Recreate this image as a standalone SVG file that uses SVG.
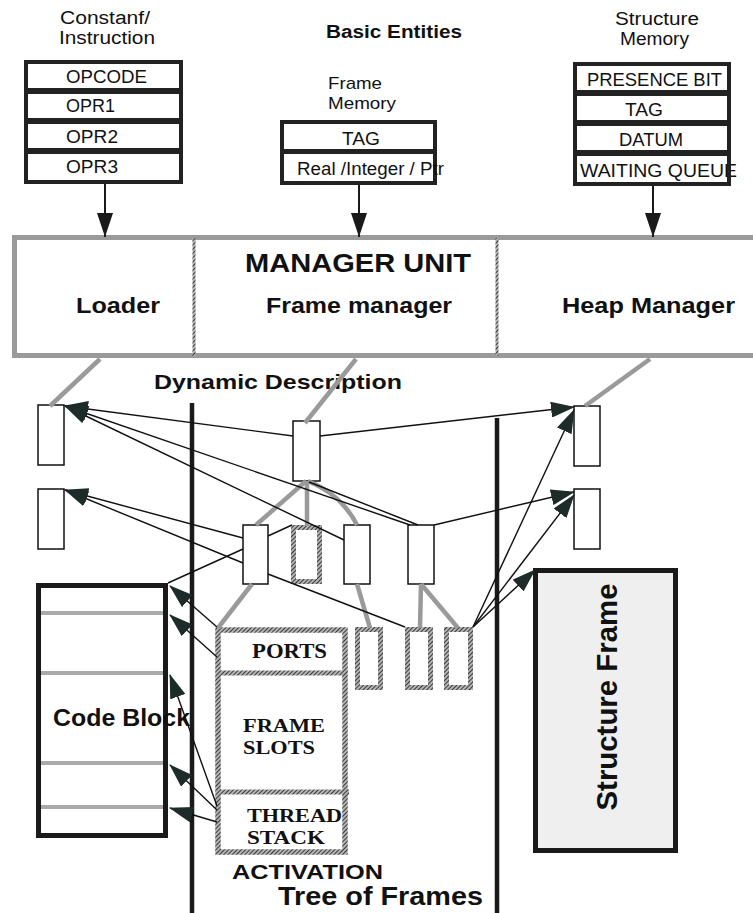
<svg xmlns="http://www.w3.org/2000/svg" width="753" height="913" viewBox="0 0 753 913">
<style>
.t{font-family:"Liberation Sans",Arial,sans-serif;fill:#111}
.b{font-family:"Liberation Sans",Arial,sans-serif;font-weight:bold;fill:#111}
.s{font-family:"Liberation Serif","Times New Roman",serif;font-weight:bold;fill:#111}
.cell{fill:#fff}
.frame{fill:#222}
.small{fill:#fff;stroke:#111;stroke-width:1.5}
.hb{fill:#fff;stroke:url(#hatch);stroke-width:5}
.ln{fill:none;stroke:#111;stroke-width:1.4}
.ar{marker-end:url(#ah)}
.gr{fill:none;stroke:#9a9a9a;stroke-width:4.5}
.vbar{stroke:#1a1a1a;stroke-width:4.5}
</style>
<defs>
<pattern id="hatch" width="3" height="3" patternUnits="userSpaceOnUse" patternTransform="rotate(45)">
<rect width="3" height="3" fill="#b4b4b4"/>
<line x1="0" y1="0" x2="0" y2="3" stroke="#1a1a1a" stroke-width="1.6"/>
</pattern>
<marker id="ah" markerUnits="userSpaceOnUse" markerWidth="24" markerHeight="16" refX="23" refY="8" orient="auto">
<path d="M0,0 L24,8 L0,16 z" fill="#1d2c28"/>
</marker>
<marker id="ahs" markerUnits="userSpaceOnUse" markerWidth="24" markerHeight="16" refX="24" refY="8" orient="auto">
<path d="M0,0 L24,8 L0,16 z" fill="#1a1a1a"/>
</marker>
</defs>

<text class="b" x="326" y="38" font-size="18" textLength="136" lengthAdjust="spacingAndGlyphs">Basic Entities</text>

<g id="constant-instruction">
<text class="t" x="60" y="24" font-size="18" textLength="90" lengthAdjust="spacingAndGlyphs">Constanf/</text>
<text class="t" x="59" y="44" font-size="18" textLength="96" lengthAdjust="spacingAndGlyphs">Instruction</text>
<rect class="frame" x="24" y="60" width="159" height="124"/>
<rect class="cell" x="28" y="64" width="151" height="24"/>
<rect class="cell" x="28" y="94" width="151" height="24"/>
<rect class="cell" x="28" y="124" width="151" height="24"/>
<rect class="cell" x="28" y="154" width="151" height="26"/>
<text class="t" x="66" y="83" font-size="17.5" textLength="81" lengthAdjust="spacingAndGlyphs">OPCODE</text>
<text class="t" x="66" y="112" font-size="17.5" textLength="49" lengthAdjust="spacingAndGlyphs">OPR1</text>
<text class="t" x="66" y="143" font-size="17.5" textLength="52" lengthAdjust="spacingAndGlyphs">OPR2</text>
<text class="t" x="66" y="173" font-size="17.5" textLength="52" lengthAdjust="spacingAndGlyphs">OPR3</text>
</g>

<g id="frame-memory">
<text class="t" x="328" y="89" font-size="17" textLength="54" lengthAdjust="spacingAndGlyphs">Frame</text>
<text class="t" x="328" y="109" font-size="17" textLength="68" lengthAdjust="spacingAndGlyphs">Memory</text>
<rect class="frame" x="280" y="120" width="157" height="65"/>
<rect class="cell" x="284" y="124" width="149" height="25"/>
<rect class="cell" x="284" y="154" width="149" height="27"/>
<text class="t" x="342" y="145" font-size="17.5" textLength="38" lengthAdjust="spacingAndGlyphs">TAG</text>
<text class="t" x="297" y="175" font-size="17.5" textLength="147" lengthAdjust="spacingAndGlyphs">Real /Integer / Ptr</text>
</g>

<g id="structure-memory">
<text class="t" x="615" y="25" font-size="18" textLength="84" lengthAdjust="spacingAndGlyphs">Structure</text>
<text class="t" x="620" y="45" font-size="18" textLength="69" lengthAdjust="spacingAndGlyphs">Memory</text>
<rect class="frame" x="573" y="62" width="158" height="124"/>
<rect class="cell" x="577" y="66" width="150" height="24"/>
<rect class="cell" x="577" y="96" width="150" height="24"/>
<rect class="cell" x="577" y="126" width="150" height="24"/>
<rect class="cell" x="577" y="156" width="150" height="26"/>
<text class="t" x="587" y="86" font-size="17.5" textLength="135" lengthAdjust="spacingAndGlyphs">PRESENCE BIT</text>
<text class="t" x="625" y="116" font-size="17.5" textLength="38" lengthAdjust="spacingAndGlyphs">TAG</text>
<text class="t" x="619" y="146" font-size="17.5" textLength="64" lengthAdjust="spacingAndGlyphs">DATUM</text>
<text class="t" x="580" y="177" font-size="17.5" textLength="157" lengthAdjust="spacingAndGlyphs">WAITING QUEUE</text>
<rect class="frame" x="727" y="156" width="4" height="28"/>
</g>

<g id="manager-unit">
<rect x="14.5" y="237.5" width="745" height="118" fill="#fff" stroke="#9a9a9a" stroke-width="5"/>
<line x1="194" y1="238" x2="194" y2="356" stroke="url(#hatch)" stroke-width="3"/>
<line x1="497" y1="238" x2="497" y2="356" stroke="url(#hatch)" stroke-width="3"/>
<text class="b" x="245" y="272" font-size="26" textLength="226" lengthAdjust="spacingAndGlyphs">MANAGER UNIT</text>
<text class="b" x="76" y="313" font-size="22" textLength="84" lengthAdjust="spacingAndGlyphs">Loader</text>
<text class="b" x="266" y="313" font-size="22" textLength="186" lengthAdjust="spacingAndGlyphs">Frame manager</text>
<text class="b" x="562" y="313" font-size="22" textLength="173" lengthAdjust="spacingAndGlyphs">Heap Manager</text>
</g>

<text class="b" x="154" y="389" font-size="21" textLength="248" lengthAdjust="spacingAndGlyphs">Dynamic Description</text>

<line class="vbar" x1="192" y1="403" x2="192" y2="913"/>
<line class="vbar" x1="497" y1="418" x2="497" y2="913"/>

<g id="loader-entry-1"><rect class="small" x="38" y="405" width="26" height="60"/></g>
<g id="loader-entry-2"><rect class="small" x="38" y="489" width="26" height="60"/></g>
<g id="heap-entry-1"><rect class="small" x="574" y="406" width="26" height="60"/></g>
<g id="heap-entry-2"><rect class="small" x="574" y="489" width="26" height="60"/></g>

<g id="frame-root"><rect class="small" x="293" y="421" width="27" height="60"/></g>
<g id="frame-a"><rect class="small" x="243" y="525" width="25" height="59"/></g>
<g id="frame-b"><rect class="hb" x="293.5" y="527.5" width="26" height="54"/></g>
<g id="frame-c"><rect class="small" x="344" y="525" width="26" height="59"/></g>
<g id="frame-d"><rect class="small" x="408" y="525" width="26" height="59"/></g>
<g id="frame-e"><rect class="hb" x="357.5" y="629.5" width="23" height="58"/></g>
<g id="frame-f"><rect class="hb" x="407.5" y="629.5" width="23" height="58"/></g>
<g id="frame-g"><rect class="hb" x="446.5" y="629.5" width="24" height="58"/></g>

<g id="code-block">
<rect x="38.5" y="585.5" width="127" height="250" fill="#fff" stroke="#1a1a1a" stroke-width="5"/>
<g stroke="#aaaaaa" stroke-width="4">
<line x1="41" y1="613" x2="163" y2="613"/>
<line x1="41" y1="673" x2="163" y2="673"/>
<line x1="41" y1="763" x2="163" y2="763"/>
<line x1="41" y1="807" x2="163" y2="807"/>
</g>
<text class="b" x="53" y="726" font-size="23" textLength="137" lengthAdjust="spacingAndGlyphs">Code Block</text>
</g>

<g id="activation">
<rect x="218" y="630" width="127" height="222" fill="#fff" stroke="url(#hatch)" stroke-width="5.5"/>
<line x1="218" y1="673" x2="345" y2="673" stroke="url(#hatch)" stroke-width="5"/>
<line x1="218" y1="792" x2="349" y2="792" stroke="url(#hatch)" stroke-width="5"/>
<text class="s" x="252" y="658" font-size="20" textLength="75" lengthAdjust="spacingAndGlyphs">PORTS</text>
<text class="s" x="243" y="732" font-size="19" textLength="82" lengthAdjust="spacingAndGlyphs">FRAME</text>
<text class="s" x="243" y="754" font-size="19" textLength="72" lengthAdjust="spacingAndGlyphs">SLOTS</text>
<text class="s" x="247" y="822" font-size="19" textLength="95" lengthAdjust="spacingAndGlyphs">THREAD</text>
<text class="s" x="247" y="844" font-size="19" textLength="78" lengthAdjust="spacingAndGlyphs">STACK</text>
<text class="b" x="232" y="879" font-size="21" textLength="151" lengthAdjust="spacingAndGlyphs">ACTIVATION</text>
</g>

<text class="b" x="278" y="905" font-size="25" textLength="205" lengthAdjust="spacingAndGlyphs">Tree of Frames</text>

<g id="structure-frame">
<rect x="535.5" y="570.5" width="140" height="280" fill="#efefef" stroke="#1a1a1a" stroke-width="5"/>
<text class="b" transform="translate(617,697) rotate(-90)" x="0" y="0" font-size="30" text-anchor="middle" textLength="227" lengthAdjust="spacingAndGlyphs">Structure Frame</text>
</g>

<g id="connectors">
<line x1="105" y1="184" x2="105" y2="237" stroke="#1a1a1a" stroke-width="2" marker-end="url(#ahs)"/>
<line x1="359" y1="185" x2="359" y2="237" stroke="#1a1a1a" stroke-width="2" marker-end="url(#ahs)"/>
<line x1="653" y1="186" x2="653" y2="237" stroke="#1a1a1a" stroke-width="2" marker-end="url(#ahs)"/>

<line class="gr" x1="100" y1="359" x2="50" y2="406"/>
<line class="gr" x1="356" y1="359" x2="305" y2="423"/>
<line class="gr" x1="650" y1="359" x2="585" y2="406"/>
<line class="gr" x1="306" y1="481" x2="256" y2="525"/>
<line class="gr" x1="307" y1="481" x2="307" y2="526"/>
<path class="gr" d="M308,481 Q342,495 357,525"/>
<line class="gr" x1="252" y1="584" x2="218" y2="628"/>
<line class="gr" x1="357" y1="584" x2="370" y2="628"/>
<line class="gr" x1="421" y1="584" x2="420" y2="628"/>
<line class="gr" x1="421" y1="584" x2="458" y2="628"/>

<line class="ln ar" x1="293" y1="436" x2="65" y2="406"/>
<line class="ln ar" x1="410" y1="525" x2="65" y2="406"/>
<line class="ln ar" x1="344" y1="540" x2="65" y2="406"/>
<line class="ln ar" x1="320" y1="436" x2="574" y2="407"/>
<line class="ln" x1="309" y1="482" x2="418" y2="525"/>
<line class="ln ar" x1="434" y1="525" x2="574" y2="492"/>
<line class="ln ar" x1="243" y1="538" x2="65" y2="490"/>
<line class="ln ar" x1="243" y1="563" x2="65" y2="490"/>
<line class="ln" x1="243" y1="549" x2="168" y2="583"/>
<line class="ln" x1="268" y1="536" x2="292" y2="525"/>
<line class="ln" x1="268" y1="574" x2="405" y2="627"/>
<line class="ln ar" x1="473" y1="627" x2="574" y2="410"/>
<line class="ln ar" x1="473" y1="627" x2="574" y2="495"/>
<line class="ln ar" x1="473" y1="627" x2="535" y2="570"/>
<line class="ln ar" x1="217" y1="627" x2="170" y2="586"/>
<line class="ln ar" x1="217" y1="657" x2="170" y2="615"/>
<line class="ln ar" x1="217" y1="806" x2="170" y2="675"/>
<line class="ln ar" x1="217" y1="810" x2="170" y2="765"/>
<line class="ln ar" x1="217" y1="822" x2="170" y2="808"/>
</g>
</svg>
